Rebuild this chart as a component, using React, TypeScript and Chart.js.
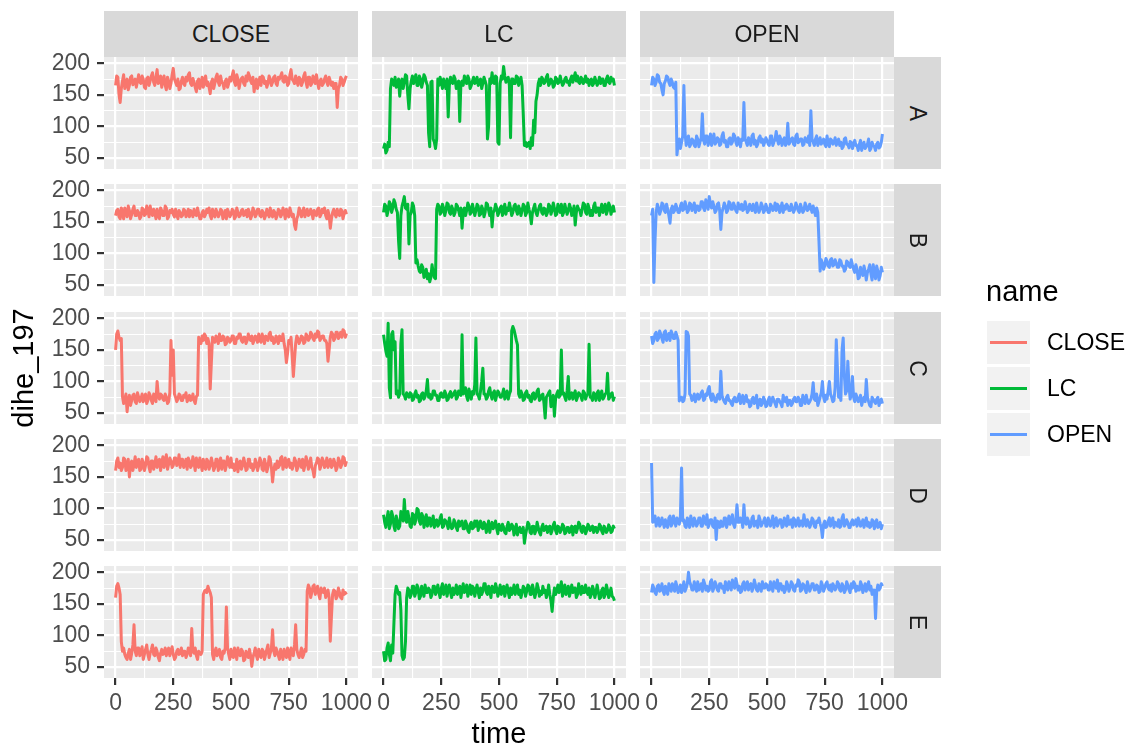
import React, { useEffect, useRef } from 'react';
import { Chart, registerables } from 'chart.js';

Chart.register(...registerables);

// time steps (x): main samples every 10, in-between samples at +5
const TIME: number[] = Array.from({ length: 101 }, (_, i) => i * 10);
const TIME_MID: number[] = Array.from({ length: 100 }, (_, i) => i * 10 + 5);

const GROUPS = ['CLOSE', 'LC', 'OPEN'];
const ROWS = ['A', 'B', 'C', 'D', 'E'];
const X_MAJOR = [0, 250, 500, 750, 1000];
const X_MINOR = [125, 375, 625, 875];
const Y_MAJOR = [50, 100, 150, 200];
const Y_MINOR = [75, 125, 175];

const CLOSE_A = [
  165, 178, 138, 172, 160, 175, 165, 180, 170, 162,
  182, 168, 175, 160, 178, 172, 185, 165, 190, 170,
  162, 180, 158, 172, 168, 192, 170, 175, 160, 178,
  165, 172, 185, 165, 170, 155, 175, 168, 162, 180,
  170, 152, 175, 168, 183, 165, 170, 160, 175, 168,
  172, 188, 165, 175, 170, 178, 165, 172, 180, 168,
  155, 175, 170, 165, 178, 172, 168, 175, 170, 180,
  165, 175, 185, 170, 178, 168, 190, 172, 180, 165,
  175, 170, 185, 162, 178, 168, 175, 182, 160, 175,
  168, 180, 165, 172, 170, 168, 130, 165, 175, 170,
  180,
];
const CLOSE_A_MID = [
  180, 150, 160, 182, 168, 158, 178, 166, 175, 172,
  170, 180, 162, 176, 165, 180, 170, 178, 168, 180,
  175, 165, 178, 160, 182, 175, 165, 158, 172, 168,
  178, 182, 168, 176, 162, 172, 160, 178, 172, 165,
  162, 170, 160, 178, 170, 180, 168, 172, 162, 178,
  180, 170, 182, 160, 176, 168, 180, 185, 172, 178,
  168, 160, 178, 180, 168, 162, 180, 165, 178, 168,
  178, 180, 172, 180, 165, 182, 175, 168, 172, 178,
  165, 180, 170, 178, 165, 180, 168, 170, 172, 165,
  175, 170, 178, 165, 160, 168, 160, 178, 165, 176,
];
const LC_A = [
  65, 58, 75, 160, 172, 178, 165, 148, 175, 170,
  180, 128, 172, 168, 182, 165, 175, 170, 178, 165,
  68, 172, 75, 80, 165, 170, 175, 160, 115, 178,
  168, 175, 165, 108, 172, 180, 168, 175, 165, 178,
  170, 165, 175, 168, 172, 80, 175, 185, 168, 178,
  72, 180, 195, 170, 178, 82, 175, 168, 178, 172,
  165, 70, 68, 75, 82, 110, 140, 168, 165, 175,
  170, 182, 168, 172, 165, 175, 170, 172, 168, 178,
  172, 175, 170, 185, 180, 168, 175, 172, 170, 165,
  175, 168, 172, 170, 168, 175, 165, 180, 168, 172,
  165,
];
const LC_A_MID = [
  72, 62, 68, 175, 165, 162, 175, 170, 160, 182,
  150, 160, 180, 175, 165, 180, 162, 182, 170, 90,
  170, 80, 65, 175, 178, 160, 168, 175, 165, 170,
  180, 160, 172, 168, 165, 172, 180, 160, 172, 168,
  178, 172, 160, 178, 165, 100, 168, 170, 180, 75,
  168, 175, 180, 175, 165, 175, 168, 180, 165, 178,
  120, 75, 72, 65, 70, 90, 150, 175, 178, 168,
  178, 165, 175, 162, 178, 168, 180, 165, 175, 170,
  165, 180, 178, 172, 170, 178, 168, 180, 175, 172,
  165, 178, 165, 178, 175, 165, 175, 170, 178, 175,
];
const OPEN_A = [
  165, 175, 170, 180, 168, 150, 172, 178, 165, 170,
  160, 55, 80, 75, 165, 70, 85, 72, 78, 68,
  80, 75, 120, 72, 85, 78, 70, 88, 75, 80,
  72, 90, 78, 68, 82, 75, 85, 70, 78, 80,
  138, 75, 82, 70, 88, 78, 72, 85, 80, 75,
  78, 70, 85, 75, 92, 72, 80, 78, 70, 105,
  75, 82, 70, 88, 76, 80, 72, 78, 85, 125,
  75, 80, 70, 82, 76, 72, 85, 68, 78, 74,
  70, 80, 75, 68, 82, 72, 76, 65, 78, 70,
  72, 62, 75, 68, 80, 65, 70, 62, 75, 68,
  88,
];
const OPEN_A_MID = [
  178, 165, 182, 170, 158, 168, 180, 170, 175, 162,
  170, 72, 65, 85, 90, 78, 68, 80, 70, 85,
  68, 82, 78, 85, 70, 88, 80, 72, 82, 70,
  85, 75, 68, 80, 72, 88, 75, 82, 68, 78,
  80, 70, 78, 85, 72, 68, 82, 75, 70, 82,
  72, 85, 70, 80, 78, 85, 70, 82, 75, 72,
  80, 72, 85, 74, 80, 70, 82, 75, 70, 80,
  70, 85, 75, 72, 80, 68, 74, 80, 72, 82,
  76, 70, 65, 80, 72, 66, 75, 72, 70, 62,
  78, 70, 65, 72, 62, 75, 68, 72, 66, 75,
];
const CLOSE_B = [
  160, 170, 155, 165, 172, 158, 168, 162, 175, 160,
  165, 158, 170, 162, 168, 175, 160, 165, 170, 155,
  168, 160, 172, 158, 165, 162, 170, 155, 165, 160,
  168, 162, 158, 165, 170, 160, 163, 155, 168, 162,
  165, 160, 170, 158, 165, 162, 168, 160, 155, 165,
  162, 168, 158, 165, 160, 170, 162, 158, 165, 160,
  168, 162, 170, 158, 165, 160, 163, 172, 158, 165,
  160, 168, 162, 165, 170, 158, 165, 162, 138, 160,
  168, 165, 158, 170, 162, 165, 168, 160, 172, 162,
  165, 160, 168, 140, 165, 162, 170, 160, 168, 163,
  162,
];
const CLOSE_B_MID = [
  168, 158, 172, 155, 165, 175, 155, 170, 160, 168,
  155, 172, 160, 175, 158, 165, 170, 155, 162, 172,
  160, 175, 155, 168, 170, 158, 162, 168, 158, 170,
  158, 170, 168, 158, 162, 172, 155, 165, 158, 170,
  172, 155, 162, 170, 158, 170, 155, 168, 170, 158,
  170, 155, 172, 158, 168, 160, 168, 170, 155, 172,
  158, 170, 160, 168, 155, 170, 158, 162, 168, 155,
  170, 158, 172, 155, 162, 172, 158, 145, 155, 172,
  158, 172, 165, 160, 170, 155, 162, 170, 158, 170,
  172, 155, 160, 155, 170, 158, 162, 170, 155, 168,
];
const LC_B = [
  165, 175, 168, 178, 172, 180, 165, 92, 175, 190,
  170, 115, 165, 175, 85, 80, 70, 78, 65, 60,
  55, 82, 62, 170, 175, 165, 172, 168, 178, 162,
  170, 165, 175, 160, 140, 172, 168, 175, 165, 170,
  168, 175, 162, 170, 165, 178, 160, 142, 168, 172,
  165, 175, 170, 162, 168, 172, 165, 178, 162, 170,
  168, 175, 165, 170, 147, 172, 165, 168, 178, 162,
  170, 165, 175, 168, 172, 162, 170, 178, 165, 170,
  168, 172, 165, 145, 175, 168, 170, 178, 162, 172,
  168, 175, 165, 172, 170, 165, 178, 168, 175, 170,
  165,
];
const LC_B_MID = [
  178, 160, 182, 165, 185, 170, 120, 160, 182, 172,
  178, 160, 180, 160, 90, 72, 82, 62, 75, 68,
  62, 70, 60, 178, 162, 178, 160, 180, 165, 175,
  160, 178, 168, 172, 165, 160, 180, 162, 178, 160,
  178, 160, 175, 158, 180, 168, 172, 165, 178, 160,
  172, 160, 178, 172, 180, 160, 175, 168, 175, 160,
  178, 160, 180, 162, 165, 178, 160, 175, 165, 172,
  160, 178, 162, 180, 160, 178, 165, 160, 178, 162,
  178, 160, 175, 165, 170, 160, 180, 165, 178, 160,
  160, 180, 172, 160, 178, 170, 162, 180, 162, 175,
];
const OPEN_B = [
  160, 54, 165, 172, 168, 178, 165, 170, 148, 175,
  168, 172, 165, 180, 170, 175, 168, 178, 172, 165,
  175, 170, 182, 168, 178, 190, 172, 175, 168, 180,
  138, 172, 175, 168, 180, 170, 175, 165, 172, 178,
  170, 175, 168, 172, 178, 165, 172, 170, 175, 168,
  172, 165, 175, 170, 168, 175, 172, 165, 170, 175,
  168, 172, 170, 175, 165, 172, 168, 175, 170, 172,
  175, 160, 165, 72, 85, 80, 88, 78, 92, 82,
  85, 78, 88, 80, 75, 86, 78, 82, 70, 75,
  62, 72, 80, 58, 75, 68, 82, 60, 72, 65,
  70,
];
const OPEN_B_MID = [
  170, 120, 178, 162, 180, 168, 178, 160, 170, 165,
  178, 165, 175, 168, 182, 165, 180, 168, 180, 175,
  168, 182, 172, 185, 170, 178, 182, 165, 178, 168,
  165, 180, 165, 182, 170, 180, 168, 180, 170, 168,
  182, 165, 178, 168, 170, 180, 165, 180, 165, 178,
  165, 178, 168, 180, 178, 165, 180, 175, 178, 168,
  178, 165, 180, 168, 178, 165, 180, 168, 178, 165,
  168, 172, 120, 90, 75, 92, 80, 90, 80, 90,
  78, 90, 80, 72, 88, 80, 90, 75, 82, 60,
  78, 65, 72, 70, 82, 58, 70, 80, 58, 78,
];
const CLOSE_C = [
  150, 180, 165, 76, 72, 52, 78, 70, 80, 65,
  75, 72, 68, 80, 70, 78, 65, 75, 100, 72,
  78, 70, 75, 68, 165, 150, 75, 72, 78, 70,
  75, 68, 78, 72, 70, 76, 170, 160, 165, 172,
  168, 88, 170, 162, 168, 175, 165, 170, 160, 168,
  165, 172, 160, 168, 175, 162, 170, 165, 168, 172,
  165, 170, 175, 162, 168, 172, 165, 178, 170, 162,
  168, 172, 165, 160, 130, 165, 170, 108, 160, 168,
  165, 170, 162, 172, 168, 175, 165, 170, 178, 168,
  172, 165, 132, 170, 175, 168, 178, 172, 170, 180,
  176,
];
const CLOSE_C_MID = [
  175, 170, 168, 65, 80, 70, 62, 78, 68, 82,
  68, 80, 75, 65, 82, 70, 80, 68, 78, 80,
  72, 80, 65, 82, 110, 80, 68, 80, 70, 78,
  82, 72, 70, 80, 65, 78, 160, 172, 175, 160,
  160, 130, 165, 172, 160, 165, 172, 158, 170, 162,
  172, 160, 170, 175, 165, 170, 160, 175, 165, 160,
  172, 162, 165, 175, 160, 168, 175, 165, 160, 172,
  160, 165, 175, 150, 145, 160, 140, 135, 172, 160,
  172, 160, 175, 165, 178, 168, 175, 180, 165, 172,
  165, 160, 150, 178, 165, 178, 168, 178, 182, 170,
];
const LC_C = [
  174, 148, 192, 74, 179, 163, 85, 80, 182, 78,
  82, 75, 80, 72, 85, 78, 70, 82, 76, 103,
  80, 74, 85, 78, 70, 82, 75, 80, 72, 84,
  78, 85, 75, 80, 174, 82, 76, 88, 72, 80,
  169, 78, 85, 121, 80, 75, 90, 72, 85, 78,
  82, 75, 88, 78, 72, 85, 187, 174, 158, 75,
  80, 72, 85, 78, 68, 82, 75, 88, 72, 80,
  42, 78, 85, 72, 45, 80, 75, 150, 82, 70,
  108, 78, 72, 85, 75, 80, 70, 82, 78, 159,
  75, 82, 70, 85, 78, 72, 80, 113, 75, 82,
  76,
];
const LC_C_MID = [
  160, 140, 90, 175, 150, 80, 75, 160, 80, 72,
  78, 82, 70, 80, 75, 68, 80, 72, 85, 75,
  72, 85, 78, 70, 80, 75, 85, 70, 80, 75,
  82, 72, 85, 78, 80, 90, 70, 80, 84, 95,
  80, 72, 100, 80, 72, 85, 78, 82, 70, 85,
  75, 80, 72, 85, 80, 180, 182, 165, 80, 85,
  70, 82, 75, 70, 80, 72, 85, 70, 78, 65,
  75, 82, 60, 78, 72, 85, 78, 80, 75, 85,
  72, 82, 80, 70, 82, 76, 85, 72, 80, 75,
  70, 78, 82, 70, 85, 75, 82, 72, 80, 70,
];
const OPEN_C = [
  172, 165, 178, 168, 175, 162, 180, 170, 165, 175,
  168, 172, 69, 75, 70, 179, 172, 78, 72, 68,
  80, 75, 85, 72, 78, 92, 70, 75, 68, 80,
  116, 72, 65, 78, 70, 62, 75, 68, 80, 72,
  65, 78, 70, 62, 75, 68, 58, 72, 65, 70,
  62, 75, 68, 70, 60, 72, 65, 78, 68, 62,
  70, 65, 75, 68, 72, 62, 70, 78, 65, 72,
  98, 70, 62, 75, 100, 68, 72, 100, 75, 70,
  166, 75, 70, 169, 80, 132, 72, 108, 68, 75,
  70, 62, 75, 103, 68, 60, 72, 65, 75, 68,
  65,
];
const OPEN_C_MID = [
  160, 175, 165, 180, 168, 178, 165, 176, 180, 168,
  178, 165, 75, 68, 80, 178, 80, 70, 80, 75,
  72, 82, 70, 80, 88, 75, 80, 68, 78, 72,
  78, 68, 75, 70, 65, 72, 68, 75, 65, 78,
  72, 68, 60, 72, 65, 78, 68, 62, 75, 60,
  70, 62, 75, 65, 72, 68, 60, 70, 75, 70,
  62, 72, 68, 75, 62, 78, 65, 70, 68, 80,
  72, 80, 68, 82, 75, 78, 85, 80, 68, 90,
  120, 80, 150, 110, 85, 95, 80, 75, 80, 68,
  78, 70, 68, 75, 62, 75, 68, 72, 62, 72,
];
const CLOSE_D = [
  160, 180, 172, 165, 178, 168, 150, 175, 170, 165,
  178, 162, 172, 168, 180, 158, 175, 170, 165, 178,
  172, 165, 185, 170, 175, 168, 180, 172, 165, 178,
  170, 162, 175, 168, 172, 180, 165, 170, 178, 162,
  175, 168, 172, 165, 178, 170, 162, 175, 168, 172,
  180, 170, 165, 158, 175, 168, 172, 162, 178, 170,
  165, 172, 168, 175, 160, 170, 165, 178, 142, 170,
  175, 168, 182, 170, 165, 178, 172, 168, 175, 165,
  172, 178, 168, 175, 170, 165, 150, 172, 178, 168,
  175, 170, 165, 178, 168, 172, 165, 175, 170, 180,
  175,
];
const CLOSE_D_MID = [
  175, 165, 160, 180, 160, 178, 170, 160, 182, 175,
  160, 178, 160, 182, 165, 175, 162, 182, 175, 160,
  182, 175, 162, 180, 165, 180, 168, 185, 178, 165,
  178, 180, 165, 182, 160, 170, 180, 160, 165, 178,
  162, 180, 160, 178, 160, 180, 175, 160, 182, 165,
  165, 160, 178, 172, 162, 180, 160, 178, 165, 160,
  178, 160, 180, 162, 178, 158, 182, 165, 160, 162,
  165, 180, 162, 180, 175, 165, 162, 180, 160, 178,
  165, 160, 182, 162, 180, 160, 168, 180, 162, 180,
  165, 180, 172, 165, 178, 160, 180, 165, 182, 168,
];
const LC_D = [
  90, 70, 95, 75, 88, 65, 80, 72, 92, 114,
  78, 85, 70, 90, 82, 98, 75, 88, 80, 72,
  85, 78, 70, 82, 75, 90, 72, 80, 68, 75,
  70, 78, 65, 72, 80, 68, 75, 62, 78, 70,
  72, 65, 80, 68, 75, 70, 62, 78, 72, 68,
  75, 65, 70, 60, 78, 68, 72, 65, 58, 70,
  62, 45, 68, 75, 60, 72, 65, 70, 58, 75,
  68, 62, 72, 65, 78, 60, 70, 66, 72, 62,
  70, 65, 58, 72, 68, 75, 62, 70, 65, 72,
  68, 62, 70, 66, 72, 60, 68, 65, 70, 64,
  68,
];
const LC_D_MID = [
  78, 85, 68, 95, 72, 88, 68, 95, 80, 85,
  95, 72, 92, 75, 100, 80, 92, 70, 90, 85,
  72, 88, 80, 72, 85, 70, 82, 75, 85, 68,
  82, 70, 80, 78, 68, 80, 65, 75, 68, 80,
  80, 75, 70, 78, 62, 80, 72, 68, 80, 60,
  68, 75, 62, 72, 65, 75, 58, 75, 68, 62,
  70, 58, 78, 62, 72, 60, 78, 62, 70, 65,
  72, 70, 60, 74, 65, 72, 62, 75, 60, 70,
  62, 72, 70, 62, 78, 65, 72, 60, 75, 65,
  72, 70, 62, 75, 64, 72, 62, 74, 62, 72,
];
const OPEN_D = [
  172, 80, 72, 85, 75, 78, 82, 70, 88, 76,
  80, 85, 75, 164, 82, 70, 78, 88, 72, 80,
  76, 85, 72, 80, 90, 75, 82, 70, 51, 78,
  80, 72, 85, 78, 75, 90, 70, 106, 78, 82,
  106, 75, 80, 72, 88, 78, 70, 82, 76, 85,
  72, 80, 78, 70, 85, 76, 82, 72, 78, 88,
  75, 70, 82, 78, 72, 80, 90, 72, 78, 75,
  82, 70, 78, 76, 54, 80, 72, 85, 78, 70,
  76, 82, 72, 90, 75, 78, 70, 82, 76, 72,
  80, 75, 70, 85, 78, 72, 80, 76, 70, 78,
  75,
];
const OPEN_D_MID = [
  78, 88, 80, 72, 85, 70, 75, 85, 72, 88,
  72, 78, 88, 80, 72, 85, 70, 78, 85, 72,
  85, 72, 88, 75, 70, 82, 72, 85, 80, 70,
  72, 85, 70, 88, 80, 75, 82, 78, 85, 70,
  78, 85, 70, 85, 72, 80, 88, 72, 80, 72,
  85, 72, 88, 80, 72, 82, 70, 85, 72, 75,
  82, 85, 72, 85, 80, 72, 78, 82, 70, 85,
  72, 80, 85, 70, 75, 70, 80, 72, 85, 78,
  72, 70, 85, 72, 82, 70, 78, 74, 82, 85,
  72, 82, 78, 72, 70, 82, 68, 82, 72, 68,
];
const CLOSE_E = [
  160, 182, 165, 75, 70, 62, 78, 72, 117, 68,
  80, 75, 62, 78, 70, 72, 85, 68, 75, 60,
  78, 72, 68, 80, 75, 70, 65, 78, 72, 68,
  75, 70, 78, 111, 72, 68, 75, 70, 165, 172,
  178, 168, 70, 75, 68, 78, 62, 72, 145, 70,
  78, 65, 72, 80, 68, 75, 62, 70, 78, 51,
  72, 68, 78, 65, 75, 70, 85, 72, 109, 68,
  75, 62, 70, 78, 65, 72, 80, 68, 117, 70,
  72, 65, 78, 170, 175, 168, 180, 172, 165, 175,
  168, 160, 172, 91, 165, 170, 162, 168, 158, 165,
  165,
];
const CLOSE_E_MID = [
  178, 175, 90, 80, 65, 72, 62, 85, 75, 80,
  68, 82, 70, 85, 62, 78, 70, 80, 65, 72,
  70, 80, 75, 68, 82, 62, 75, 70, 80, 75,
  65, 80, 68, 75, 80, 62, 72, 75, 170, 168,
  172, 160, 62, 80, 72, 65, 75, 80, 80, 62,
  68, 80, 62, 70, 78, 60, 75, 65, 68, 65,
  80, 62, 70, 78, 62, 78, 65, 80, 75, 80,
  68, 78, 62, 70, 80, 62, 70, 85, 78, 65,
  80, 70, 75, 180, 160, 178, 165, 178, 158, 170,
  175, 165, 160, 130, 172, 158, 175, 160, 172, 168,
];
const LC_E = [
  75, 62, 88, 60, 72, 165, 172, 168, 68, 65,
  160, 172, 165, 178, 168, 175, 162, 170, 180, 168,
  172, 165, 178, 170, 168, 175, 165, 180, 172, 168,
  175, 170, 165, 178, 172, 168, 180, 170, 165, 175,
  172, 168, 175, 170, 182, 165, 172, 178, 168, 175,
  170, 165, 178, 172, 168, 175, 170, 165, 180, 172,
  168, 175, 170, 178, 165, 172, 168, 175, 170, 178,
  172, 168, 165, 138, 175, 170, 168, 185, 172, 165,
  178, 170, 168, 175, 165, 172, 178, 168, 170, 175,
  165, 172, 168, 170, 160, 175, 165, 172, 168, 162,
  155,
];
const LC_E_MID = [
  60, 80, 70, 85, 120, 178, 165, 140, 62, 90,
  175, 160, 178, 162, 180, 158, 178, 162, 168, 175,
  160, 178, 165, 180, 160, 182, 170, 162, 180, 160,
  165, 180, 172, 160, 182, 170, 162, 180, 178, 162,
  180, 160, 165, 182, 168, 178, 160, 170, 182, 162,
  180, 175, 162, 180, 160, 165, 180, 172, 165, 160,
  178, 162, 180, 165, 180, 160, 182, 162, 165, 168,
  160, 180, 155, 160, 165, 180, 175, 162, 180, 170,
  162, 180, 175, 160, 182, 165, 168, 180, 165, 160,
  178, 160, 180, 158, 172, 160, 180, 160, 175, 160,
];
const OPEN_E = [
  168, 175, 165, 180, 172, 170, 178, 165, 175, 182,
  170, 178, 172, 168, 185, 175, 200, 180, 172, 178,
  185, 175, 170, 182, 178, 172, 188, 175, 180, 170,
  182, 178, 185, 172, 180, 188, 175, 182, 178, 170,
  185, 178, 172, 182, 175, 180, 170, 178, 185, 175,
  180, 172, 178, 185, 175, 170, 182, 178, 172, 180,
  175, 182, 170, 178, 185, 172, 180, 168, 178, 175,
  182, 172, 178, 170, 180, 175, 185, 172, 170, 178,
  175, 182, 170, 178, 172, 180, 168, 175, 182, 178,
  172, 180, 175, 170, 185, 178, 172, 127, 180, 175,
  178,
];
const OPEN_E_MID = [
  180, 168, 178, 170, 182, 165, 172, 182, 170, 175,
  185, 168, 180, 175, 170, 182, 185, 172, 185, 170,
  172, 182, 188, 172, 170, 185, 170, 185, 172, 182,
  175, 168, 178, 185, 172, 178, 190, 172, 168, 182,
  172, 185, 180, 170, 188, 172, 182, 170, 175, 182,
  172, 185, 170, 178, 188, 182, 172, 168, 185, 170,
  185, 172, 180, 188, 170, 182, 172, 185, 170, 182,
  172, 180, 168, 185, 170, 182, 175, 180, 182, 172,
  185, 172, 182, 168, 185, 172, 182, 185, 170, 172,
  185, 168, 182, 178, 172, 165, 172, 170, 172, 182,
];

const SERIES: Record<string, number[][]> = {
  A: [CLOSE_A, LC_A, OPEN_A],
  B: [CLOSE_B, LC_B, OPEN_B],
  C: [CLOSE_C, LC_C, OPEN_C],
  D: [CLOSE_D, LC_D, OPEN_D],
  E: [CLOSE_E, LC_E, OPEN_E],
};
const SERIES_MID: Record<string, number[][]> = {
  A: [CLOSE_A_MID, LC_A_MID, OPEN_A_MID],
  B: [CLOSE_B_MID, LC_B_MID, OPEN_B_MID],
  C: [CLOSE_C_MID, LC_C_MID, OPEN_C_MID],
  D: [CLOSE_D_MID, LC_D_MID, OPEN_D_MID],
  E: [CLOSE_E_MID, LC_E_MID, OPEN_E_MID],
};
const COLORS = ['#F8766D', '#00BA38', '#619CFF'];

// layout (pixels)
const W = 1130;
const H = 746;
const PANEL_LEFT = [104, 372, 640];
const PANEL_TOP = [57, 184, 312, 439, 566];
const PW = 254;
const PH = 112;
const AXW = 64;
const AXH = 45;
const FONT = "'Liberation Sans', Arial, Helvetica, sans-serif";

const panelBg = {
  id: 'panelBg',
  beforeDraw(chart: any) {
    const { ctx, chartArea: a } = chart;
    ctx.save();
    ctx.fillStyle = '#EBEBEB';
    ctx.fillRect(a.left, a.top, a.right - a.left, a.bottom - a.top);
    ctx.restore();
  },
};

function makeConfig(r: number, c: number): any {
  const isLeft = c === 0;
  const isBottom = r === ROWS.length - 1;
  const pL = PANEL_LEFT[c];
  const pT = PANEL_TOP[r];
  const vals = SERIES[ROWS[r]][c];
  const mids = SERIES_MID[ROWS[r]][c];
  const pts = [
    ...TIME.map((t, i) => ({ x: t, y: vals[i] })),
    ...TIME_MID.map((t, i) => ({ x: t, y: mids[i] })),
  ].sort((a, b) => a.x - b.x);
  const isMajX = (v: number) => X_MAJOR.includes(v);
  const isMajY = (v: number) => Y_MAJOR.includes(v);
  return {
    type: 'line',
    data: {
      datasets: [
        {
          data: pts,
          borderColor: COLORS[c],
          borderWidth: 3,
          pointRadius: 0,
          tension: 0,
          fill: false,
          borderJoinStyle: 'round',
        },
      ],
    },
    options: {
      responsive: false,
      animation: false,
      events: [],
      devicePixelRatio: 1,
      layout: {
        padding: {
          left: isLeft ? pL - AXW : pL,
          top: pT,
          right: W - (pL + PW),
          bottom: H - (pT + PH) - (isBottom ? AXH : 0),
        },
      },
      plugins: { legend: { display: false }, tooltip: { enabled: false } },
      scales: {
        x: {
          type: 'linear',
          min: -50,
          max: 1050,
          afterBuildTicks: (s: any) => {
            s.ticks = [...X_MAJOR, ...X_MINOR].sort((a, b) => a - b).map((v) => ({ value: v }));
          },
          afterFit: (s: any) => {
            s.height = isBottom ? AXH : 0;
          },
          border: { display: false },
          grid: {
            color: '#FFFFFF',
            lineWidth: (ctx: any) => (ctx.tick && isMajX(ctx.tick.value) ? 2.2 : 1.1),
            drawTicks: isBottom,
            tickLength: 7,
            tickWidth: 2.2,
            tickColor: (ctx: any) => (ctx.tick && isMajX(ctx.tick.value) ? '#333333' : 'rgba(0,0,0,0)'),
          },
          ticks: {
            display: isBottom,
            autoSkip: false,
            maxRotation: 0,
            padding: 5,
            color: '#4D4D4D',
            font: { family: FONT, size: 23 },
            callback: (v: any) => (isMajX(Number(v)) ? String(v) : ''),
          },
        },
        y: {
          type: 'linear',
          min: 32.6,
          max: 210,
          afterBuildTicks: (s: any) => {
            s.ticks = [...Y_MAJOR, ...Y_MINOR].sort((a, b) => a - b).map((v) => ({ value: v }));
          },
          afterFit: (s: any) => {
            s.width = isLeft ? AXW : 0;
          },
          border: { display: false },
          grid: {
            color: '#FFFFFF',
            lineWidth: (ctx: any) => (ctx.tick && isMajY(ctx.tick.value) ? 2.2 : 1.1),
            drawTicks: isLeft,
            tickLength: 7,
            tickWidth: 2.2,
            tickColor: (ctx: any) => (ctx.tick && isMajY(ctx.tick.value) ? '#333333' : 'rgba(0,0,0,0)'),
          },
          ticks: {
            display: isLeft,
            autoSkip: false,
            padding: 7,
            color: '#4D4D4D',
            font: { family: FONT, size: 23 },
            callback: (v: any) => (isMajY(Number(v)) ? String(v) : ''),
          },
        },
      },
    },
    plugins: [panelBg],
  };
}

const abs = (s: React.CSSProperties): React.CSSProperties => ({ position: 'absolute', ...s });

export default function App() {
  const refs = useRef<(HTMLCanvasElement | null)[]>([]);

  useEffect(() => {
    const charts: Chart[] = [];
    ROWS.forEach((_, r) => {
      GROUPS.forEach((__, c) => {
        const cv = refs.current[r * 3 + c];
        if (cv) charts.push(new Chart(cv, makeConfig(r, c)));
      });
    });
    return () => charts.forEach((ch) => ch.destroy());
  }, []);

  const canvases = [];
  for (let i = 0; i < 15; i++) {
    canvases.push(
      <canvas
        key={i}
        ref={(el) => {
          refs.current[i] = el;
        }}
        width={W}
        height={H}
        style={abs({ left: 0, top: 0, width: W, height: H })}
      />
    );
  }

  return (
    <div style={abs({ left: 0, top: 0, width: W, height: H, background: '#FFFFFF', fontFamily: FONT, overflow: 'hidden' })}>
      {canvases}
      {GROUPS.map((g, c) => (
        <div
          key={g}
          style={abs({
            left: PANEL_LEFT[c],
            top: 11,
            width: PW,
            height: 46,
            background: '#D9D9D9',
            color: '#1A1A1A',
            fontSize: 23,
            display: 'flex',
            alignItems: 'center',
            justifyContent: 'center',
          })}
        >
          {g}
        </div>
      ))}
      {ROWS.map((rw, r) => (
        <div
          key={rw}
          style={abs({
            left: 894,
            top: PANEL_TOP[r],
            width: 47,
            height: PH,
            background: '#D9D9D9',
            color: '#1A1A1A',
            fontSize: 23,
            display: 'flex',
            alignItems: 'center',
            justifyContent: 'center',
          })}
        >
          <span style={{ display: 'inline-block', transform: 'rotate(90deg)' }}>{rw}</span>
        </div>
      ))}
      <div style={abs({ left: 399, width: 200, top: 719, textAlign: 'center', fontSize: 29, lineHeight: 1, color: '#000' })}>time</div>
      <div
        style={abs({
          left: 23 - 100,
          top: 368 - 15,
          width: 200,
          height: 30,
          textAlign: 'center',
          fontSize: 29,
          lineHeight: '30px',
          color: '#000',
          transform: 'rotate(-90deg)',
        })}
      >
        dihe_197
      </div>
      <div style={abs({ left: 986, top: 277, fontSize: 29, lineHeight: 1, color: '#000' })}>name</div>
      {GROUPS.map((g, i) => (
        <React.Fragment key={g}>
          <div style={abs({ left: 987, top: 321 + i * 46, width: 43, height: 43, background: '#F2F2F2' })}>
            <div style={abs({ left: 3, top: 20, width: 37, height: 3, background: COLORS[i] })} />
          </div>
          <div
            style={abs({
              left: 1047,
              top: 321 + i * 46,
              height: 43,
              display: 'flex',
              alignItems: 'center',
              fontSize: 23,
              color: '#000',
            })}
          >
            {g}
          </div>
        </React.Fragment>
      ))}
    </div>
  );
}
